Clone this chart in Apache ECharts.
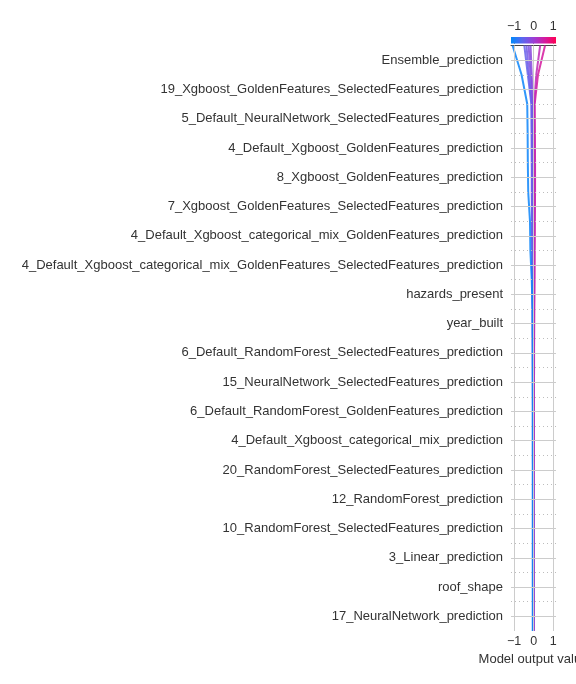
<!DOCTYPE html>
<html><head><meta charset="utf-8">
<script src="https://cdn.jsdelivr.net/npm/echarts@6/dist/echarts.min.js"></script>
<style>html,body{margin:0;padding:0;background:#fff}#c{width:576px;height:684px}</style>
</head><body><div id="c"></div>
<script>
// ---- data ----
const features = [
  "Ensemble_prediction",
  "19_Xgboost_GoldenFeatures_SelectedFeatures_prediction",
  "5_Default_NeuralNetwork_SelectedFeatures_prediction",
  "4_Default_Xgboost_GoldenFeatures_prediction",
  "8_Xgboost_GoldenFeatures_prediction",
  "7_Xgboost_GoldenFeatures_SelectedFeatures_prediction",
  "4_Default_Xgboost_categorical_mix_GoldenFeatures_prediction",
  "4_Default_Xgboost_categorical_mix_GoldenFeatures_SelectedFeatures_prediction",
  "hazards_present",
  "year_built",
  "6_Default_RandomForest_SelectedFeatures_prediction",
  "15_NeuralNetwork_SelectedFeatures_prediction",
  "6_Default_RandomForest_GoldenFeatures_prediction",
  "4_Default_Xgboost_categorical_mix_prediction",
  "20_RandomForest_SelectedFeatures_prediction",
  "12_RandomForest_prediction",
  "10_RandomForest_SelectedFeatures_prediction",
  "3_Linear_prediction",
  "roof_shape",
  "17_NeuralNetwork_prediction"
];
const xTicks = [-1, 0, 1];
const xRange = [-1.16, 1.14];
// cumulative model output at each row boundary, top (0) to bottom (20)
const obsPink2 = [0.58,0.22,0.05,0.06,0.07,0.07,0.06,0.05,0.04,0.03,0.02,0.02,0.01,0.01,0.01,0.00,0.00,0.00,0.00,0.00,0.00];
const obsPink1 = [0.33,0.13,0.03,0.04,0.05,0.05,0.04,0.03,0.03,0.02,0.02,0.01,0.01,0.01,0.00,0.00,0.00,0.00,0.00,0.00,0.00];
const obsPurple4 = [-0.16,-0.10,-0.04,-0.04,-0.04,-0.04,-0.03,-0.03,-0.03,-0.03,-0.02,-0.02,-0.02,-0.02,-0.02,-0.02,-0.02,-0.02,-0.02,-0.02,-0.02];
const obsPurple3 = [-0.26,-0.16,-0.07,-0.07,-0.06,-0.06,-0.06,-0.05,-0.05,-0.04,-0.04,-0.03,-0.03,-0.03,-0.03,-0.02,-0.02,-0.02,-0.02,-0.02,-0.02];
const obsPurple2 = [-0.37,-0.24,-0.10,-0.09,-0.09,-0.08,-0.08,-0.07,-0.06,-0.05,-0.05,-0.04,-0.04,-0.03,-0.03,-0.03,-0.02,-0.02,-0.02,-0.02,-0.02];
const obsPurple1 = [-0.48,-0.30,-0.12,-0.11,-0.10,-0.10,-0.09,-0.08,-0.07,-0.06,-0.05,-0.05,-0.04,-0.04,-0.04,-0.03,-0.03,-0.03,-0.03,-0.03,-0.03];
const obsBlue = [-1.08,-0.62,-0.33,-0.31,-0.30,-0.28,-0.19,-0.17,-0.10,-0.06,-0.05,-0.05,-0.05,-0.05,-0.05,-0.05,-0.05,-0.05,-0.05,-0.05,-0.05];
const observations = [obsPink2, obsPink1, obsPurple4, obsPurple3, obsPurple2, obsPurple1, obsBlue];

// ---- colormap (blue -> purple -> red) ----
const cmapStops = [[0,[0,138,251]],[0.25,[90,103,239]],[0.5,[154,63,214]],[0.75,[212,26,160]],[1,[255,0,82]]];
function cmap(v){
  let t = (v - xRange[0]) / (xRange[1] - xRange[0]);
  t = Math.max(0, Math.min(1, t));
  for (let i = 1; i < cmapStops.length; i++) {
    if (t <= cmapStops[i][0]) {
      const a = cmapStops[i-1], b = cmapStops[i];
      const f = (t - a[0]) / (b[0] - a[0]);
      const c = a[1].map((x, j) => Math.round(x + (b[1][j] - x) * f));
      return 'rgb(' + c.join(',') + ')';
    }
  }
  return 'rgb(255,0,82)';
}
const toRGB = c => 'rgb(' + c.join(',') + ')';

const fmt = v => (v < 0 ? '\u2212' + Math.abs(v) : String(v));
const FONT = 'Liberation Sans, Arial, sans-serif';

const gridMarks = [];
xTicks.forEach(v => gridMarks.push({xAxis: v, lineStyle: {color: '#cccccc', type: 'solid', width: 1}}));
features.forEach((f, i) => gridMarks.push({yAxis: i + 0.5, lineStyle: {color: '#cccccc', type: 'solid', width: 1}}));
for (let k = 1; k < features.length; k++) gridMarks.push({yAxis: k, lineStyle: {color: '#bdbdbd', type: [1, 3], width: 1}});

const chart = echarts.init(document.getElementById('c'), null, {renderer: 'canvas'});
const series = [{
  type: 'line', xAxisIndex: 0, yAxisIndex: 0, data: [[0, 0]], showSymbol: false,
  lineStyle: {opacity: 0}, z: 1, silent: true,
  markLine: {silent: true, symbol: ['none', 'none'], label: {show: false}, animation: false, data: gridMarks}
}];
observations.forEach(o => {
  series.push({
    type: 'line', xAxisIndex: 0, yAxisIndex: 0, z: 3,
    data: o.map((v, k) => [v, k]), showSymbol: false, smooth: false,
    lineStyle: {color: cmap(o[0]), width: 2, opacity: 0.85}
  });
});

chart.setOption({
  animation: false,
  backgroundColor: '#ffffff',
  grid: [
    {left: 511, right: 20, top: 45.5, bottom: 53, containLabel: false, outerBoundsMode: 'none'},
    {left: 511, right: 20, top: 37, height: 6.5, containLabel: false, outerBoundsMode: 'none'}
  ],
  xAxis: [
    {type: 'value', gridIndex: 0, min: xRange[0], max: xRange[1],
     name: 'Model output value', nameLocation: 'middle', nameGap: 19,
     nameTextStyle: {fontFamily: FONT, fontSize: 13, color: '#333'},
     axisLine: {show: true, lineStyle: {color: '#444', width: 1}},
     axisTick: {show: true, length: 3, customValues: xTicks, lineStyle: {color: '#444'}},
     axisLabel: {customValues: xTicks, formatter: fmt, fontFamily: FONT, fontSize: 12.5, color: '#333', margin: 4},
     splitLine: {show: false}},
    {type: 'value', gridIndex: 1, position: 'top', min: xRange[0], max: xRange[1],
     axisLine: {show: false},
     axisTick: {show: true, length: 3, customValues: xTicks, lineStyle: {color: '#444'}},
     axisLabel: {customValues: xTicks, formatter: fmt, fontFamily: FONT, fontSize: 12.5, color: '#333', margin: 4},
     splitLine: {show: false}}
  ],
  yAxis: [
    {type: 'value', gridIndex: 0, min: 0, max: features.length, inverse: true,
     axisLine: {show: false}, axisTick: {show: false}, axisLabel: {show: false}, splitLine: {show: false}},
    {type: 'category', gridIndex: 0, data: features, inverse: true, position: 'left',
     axisLine: {show: false}, axisTick: {show: false}, splitLine: {show: false},
     axisLabel: {fontFamily: FONT, fontSize: 13, color: '#333', margin: 8}},
    {type: 'value', gridIndex: 1, show: false, min: 0, max: 1}
  ],
  graphic: [{
    type: 'rect', z: 10,
    shape: {x: 511, y: 37, width: 45, height: 6.5},
    style: {fill: new echarts.graphic.LinearGradient(0, 0, 1, 0,
      cmapStops.map(s => ({offset: s[0], color: toRGB(s[1])})))}
  }],
  series: series
});
</script></body></html>
